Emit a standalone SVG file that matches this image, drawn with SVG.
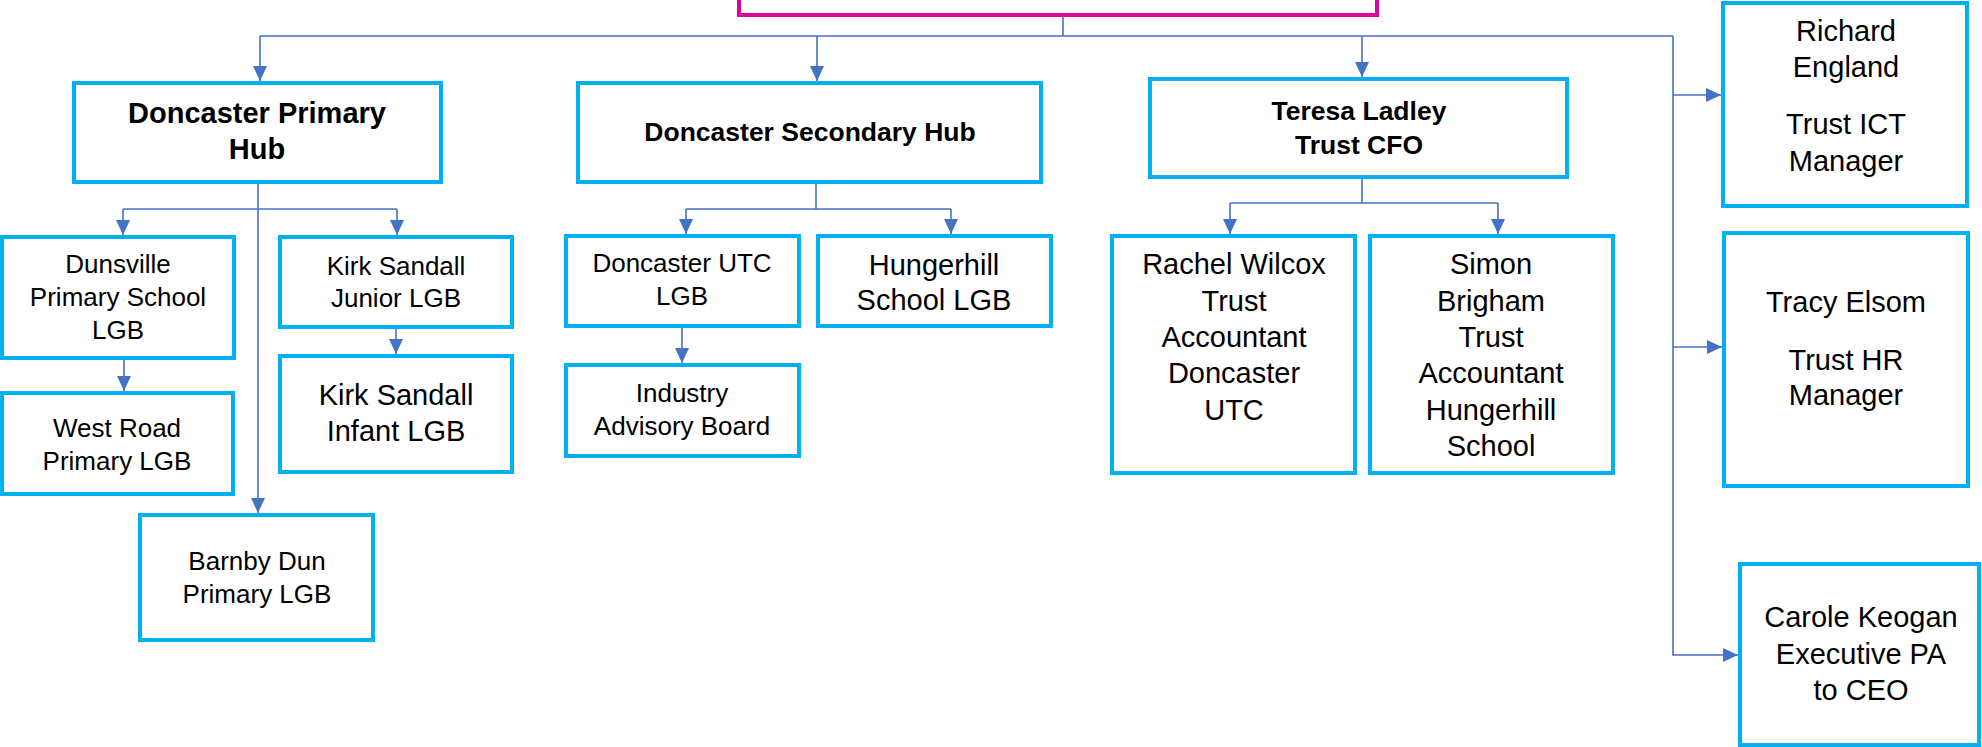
<svg xmlns="http://www.w3.org/2000/svg" width="1982" height="747" viewBox="0 0 1982 747">
<style>
.box{fill:#fff;stroke:#00B0F0;stroke-width:4}
.top{fill:#fff;stroke:#E0009A;stroke-width:4}
.c{fill:none;stroke:#4472C4;stroke-width:1.6}
text{font-family:"Liberation Sans",Arial,sans-serif;fill:#000;text-anchor:middle}
.b{font-weight:bold}
.s{font-size:26px}
.m{font-size:29px}
</style>
<defs>
<marker id="ah" markerUnits="userSpaceOnUse" markerWidth="15" markerHeight="14" refX="15" refY="7" orient="auto">
<path d="M0,0 L15,7 L0,14 z" fill="#4472C4"/>
</marker>
</defs>
<g id="connectors">
<path class="c" d="M1063,15 V36 M260,36 H1673"/>
<path class="c" d="M260,36 V81" marker-end="url(#ah)"/>
<path class="c" d="M817,36 V81" marker-end="url(#ah)"/>
<path class="c" d="M1362,36 V77" marker-end="url(#ah)"/>
<path class="c" d="M1673,36 V655 H1738" marker-end="url(#ah)"/>
<path class="c" d="M1673,95 H1721" marker-end="url(#ah)"/>
<path class="c" d="M1673,347 H1722" marker-end="url(#ah)"/>
<path class="c" d="M258,182 V513" marker-end="url(#ah)"/>
<path class="c" d="M123,209 H397"/>
<path class="c" d="M123,209 V235" marker-end="url(#ah)"/>
<path class="c" d="M397,209 V235" marker-end="url(#ah)"/>
<path class="c" d="M124,358 V391" marker-end="url(#ah)"/>
<path class="c" d="M396,327 V354" marker-end="url(#ah)"/>
<path class="c" d="M816,182 V209 M686,209 H951"/>
<path class="c" d="M686,209 V234" marker-end="url(#ah)"/>
<path class="c" d="M951,209 V234" marker-end="url(#ah)"/>
<path class="c" d="M682,326 V363" marker-end="url(#ah)"/>
<path class="c" d="M1362,177 V203 M1230,203 H1498"/>
<path class="c" d="M1230,203 V234" marker-end="url(#ah)"/>
<path class="c" d="M1498,203 V234" marker-end="url(#ah)"/>
</g>
<g id="top-node"><rect class="top" x="739" y="-20" width="638" height="35"/></g>
<g id="primary-hub"><rect class="box" x="74" y="83" width="367" height="99"/>
<text class="b" font-size="29" x="257" y="123">Doncaster Primary</text>
<text class="b" font-size="29" x="257" y="159">Hub</text></g>
<g id="secondary-hub"><rect class="box" x="578" y="83" width="463" height="99"/>
<text class="b" font-size="26.5" x="810" y="141">Doncaster Secondary Hub</text></g>
<g id="teresa"><rect class="box" x="1150" y="79" width="417" height="98"/>
<text class="b" font-size="26.5" x="1359" y="120">Teresa Ladley</text>
<text class="b" font-size="26.5" x="1359" y="154">Trust CFO</text></g>
<g id="richard"><rect class="box" x="1723" y="3" width="244" height="203"/>
<text class="m" x="1846" y="41">Richard</text>
<text class="m" x="1846" y="77">England</text>
<text class="m" x="1846" y="134">Trust ICT</text>
<text class="m" x="1846" y="171">Manager</text></g>
<g id="tracy"><rect class="box" x="1724" y="233" width="244" height="253"/>
<text class="m" x="1846" y="312">Tracy Elsom</text>
<text class="m" x="1846" y="370">Trust HR</text>
<text class="m" x="1846" y="405">Manager</text></g>
<g id="carole"><rect class="box" x="1740" y="564" width="239" height="181"/>
<text class="m" x="1861" y="627">Carole Keogan</text>
<text class="m" x="1861" y="664">Executive PA</text>
<text class="m" x="1861" y="700">to CEO</text></g>
<g id="dunsville"><rect class="box" x="2" y="237" width="232" height="121"/>
<text class="s" x="118" y="273">Dunsville</text>
<text class="s" x="118" y="306">Primary School</text>
<text class="s" x="118" y="339">LGB</text></g>
<g id="west-road"><rect class="box" x="2" y="393" width="231" height="101"/>
<text class="s" x="117" y="437">West Road</text>
<text class="s" x="117" y="470">Primary LGB</text></g>
<g id="kirk-junior"><rect class="box" x="280" y="237" width="232" height="90"/>
<text class="s" x="396" y="275">Kirk Sandall</text>
<text class="s" x="396" y="307">Junior LGB</text></g>
<g id="kirk-infant"><rect class="box" x="280" y="356" width="232" height="116"/>
<text class="m" x="396" y="405">Kirk Sandall</text>
<text class="m" x="396" y="441">Infant LGB</text></g>
<g id="barnby"><rect class="box" x="140" y="515" width="233" height="125"/>
<text class="s" x="257" y="570">Barnby Dun</text>
<text class="s" x="257" y="603">Primary LGB</text></g>
<g id="utc"><rect class="box" x="566" y="236" width="233" height="90"/>
<text class="s" x="682" y="272">Doncaster UTC</text>
<text class="s" x="682" y="305">LGB</text></g>
<g id="hungerhill"><rect class="box" x="818" y="236" width="233" height="90"/>
<text class="m" x="934" y="275">Hungerhill</text>
<text class="m" x="934" y="310">School LGB</text></g>
<g id="industry"><rect class="box" x="566" y="365" width="233" height="91"/>
<text class="s" x="682" y="402">Industry</text>
<text class="s" x="682" y="435">Advisory Board</text></g>
<g id="rachel"><rect class="box" x="1112" y="236" width="243" height="237"/>
<text class="m" x="1234" y="274">Rachel Wilcox</text>
<text class="m" x="1234" y="311">Trust</text>
<text class="m" x="1234" y="347">Accountant</text>
<text class="m" x="1234" y="383">Doncaster</text>
<text class="m" x="1234" y="420">UTC</text></g>
<g id="simon"><rect class="box" x="1370" y="236" width="243" height="237"/>
<text class="m" x="1491" y="274">Simon</text>
<text class="m" x="1491" y="311">Brigham</text>
<text class="m" x="1491" y="347">Trust</text>
<text class="m" x="1491" y="383">Accountant</text>
<text class="m" x="1491" y="420">Hungerhill</text>
<text class="m" x="1491" y="456">School</text></g>
</svg>
